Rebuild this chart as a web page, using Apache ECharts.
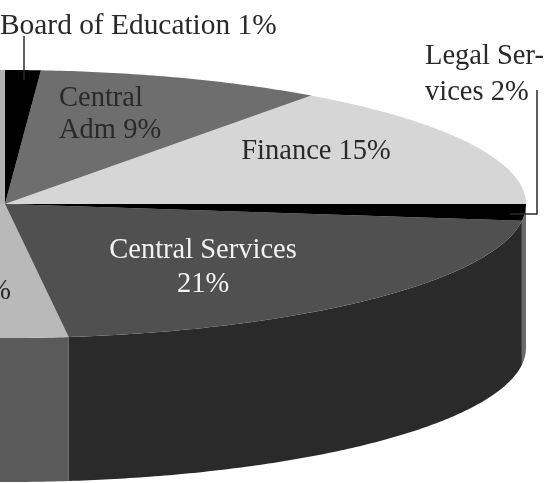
<!DOCTYPE html>
<html>
<head>
<meta charset="utf-8">
<style>html,body{margin:0;padding:0;background:#fff}#c{width:550px;height:483px}</style>
<script src="https://cdn.jsdelivr.net/npm/echarts@6/dist/echarts.min.js"></script>
</head>
<body>
<div id="c"></div>
<script>
// Slices run counter-clockwise from 3 o'clock; two are cropped off in the reference (their shares are estimates).
const sliceNames = ['Finance', 'Central Adm', 'Board of Education', 'Cropped upper', 'Cropped lower', 'Central Services', 'Legal Services'];
const sliceValues = [15, 8.9, 1.1, 26, 25.95, 21.05, 2];
const topColors = ['#d6d6d6', '#6e6e6e', '#000000', '#b0b0b0', '#b9b9b9', '#505050', '#000000'];
const sideColors = ['#d6d6d6', '#6e6e6e', '#000000', '#5a5a5a', '#5a5a5a', '#2a2a2a', '#6a6a6a'];

const CX = 5, CY = 204, RX = 521, RY = 134, DEPTH = 144;
const total = sliceValues.reduce((a, b) => a + b, 0);
const starts = [];
sliceValues.reduce((acc, v, i) => { starts[i] = acc; return acc + v; }, 0);
const toAngle = v => v / total * Math.PI * 2;
const pt = (t, dy) => [CX + RX * Math.cos(t), CY - RY * Math.sin(t) + dy];

function arc(a0, a1, dy) {
  const n = Math.max(2, Math.ceil((a1 - a0) / 0.01));
  const out = [];
  for (let i = 0; i <= n; i++) out.push(pt(a0 + (a1 - a0) * i / n, dy));
  return out;
}

function renderTop(params, api) {
  const i = params.dataIndex;
  const a0 = toAngle(starts[i]), a1 = toAngle(starts[i] + api.value(0));
  return { type: 'polygon', shape: { points: [[CX, CY]].concat(arc(a0, a1, 0)) }, style: { fill: topColors[i] } };
}

function renderSide(params, api) {
  const i = params.dataIndex;
  const a0 = Math.max(toAngle(starts[i]), Math.PI);
  const a1 = toAngle(starts[i] + api.value(0));
  if (a1 <= a0) return null;
  return { type: 'polygon', shape: { points: arc(a0, a1, 0).concat(arc(a0, a1, DEPTH).reverse()) }, style: { fill: sideColors[i] } };
}

const seriesData = sliceNames.map((n, i) => ({ name: n, value: [sliceValues[i]] }));
const serif = '"Liberation Serif", serif';
const ink = '#2b2829';
const txt = (text, x, y, fill, align, lh, size) => ({
  type: 'text', x, y, silent: true, z: 10,
  style: { text, fill, font: (size || 28.5) + 'px ' + serif, textAlign: align || 'left', textVerticalAlign: 'middle', lineHeight: lh || 34 }
});
const line = points => ({
  type: 'polyline', silent: true, z: 9,
  shape: { points }, style: { stroke: '#2b2829', lineWidth: 1.5, fill: null }
});

const chart = echarts.init(document.getElementById('c'), null, { renderer: 'canvas' });
chart.setOption({
  animation: false,
  backgroundColor: '#ffffff',
  series: [
    { type: 'custom', coordinateSystem: 'none', silent: true, z: 1, data: seriesData, renderItem: renderSide },
    { type: 'custom', coordinateSystem: 'none', silent: true, z: 2, data: seriesData, renderItem: renderTop }
  ],
  graphic: [
    txt('Board of Education 1%', 0, 26, ink, 'left', 34, 29.4),
    txt('Central\nAdm 9%', 59, 115, ink, 'left', 32),
    txt('Finance 15%', 316, 152, ink, 'center'),
    txt('Central Services\n21%', 203, 268, '#f2f2f2', 'center'),
    txt('Legal Ser-\nvices 2%', 425, 75, ink, 'left', 36),
    txt('%', 11, 292, ink, 'right'),
    line([[24, 36], [24, 80]]),
    line([[510, 214], [537, 214], [537, 90]])
  ]
});
</script>
</body>
</html>
